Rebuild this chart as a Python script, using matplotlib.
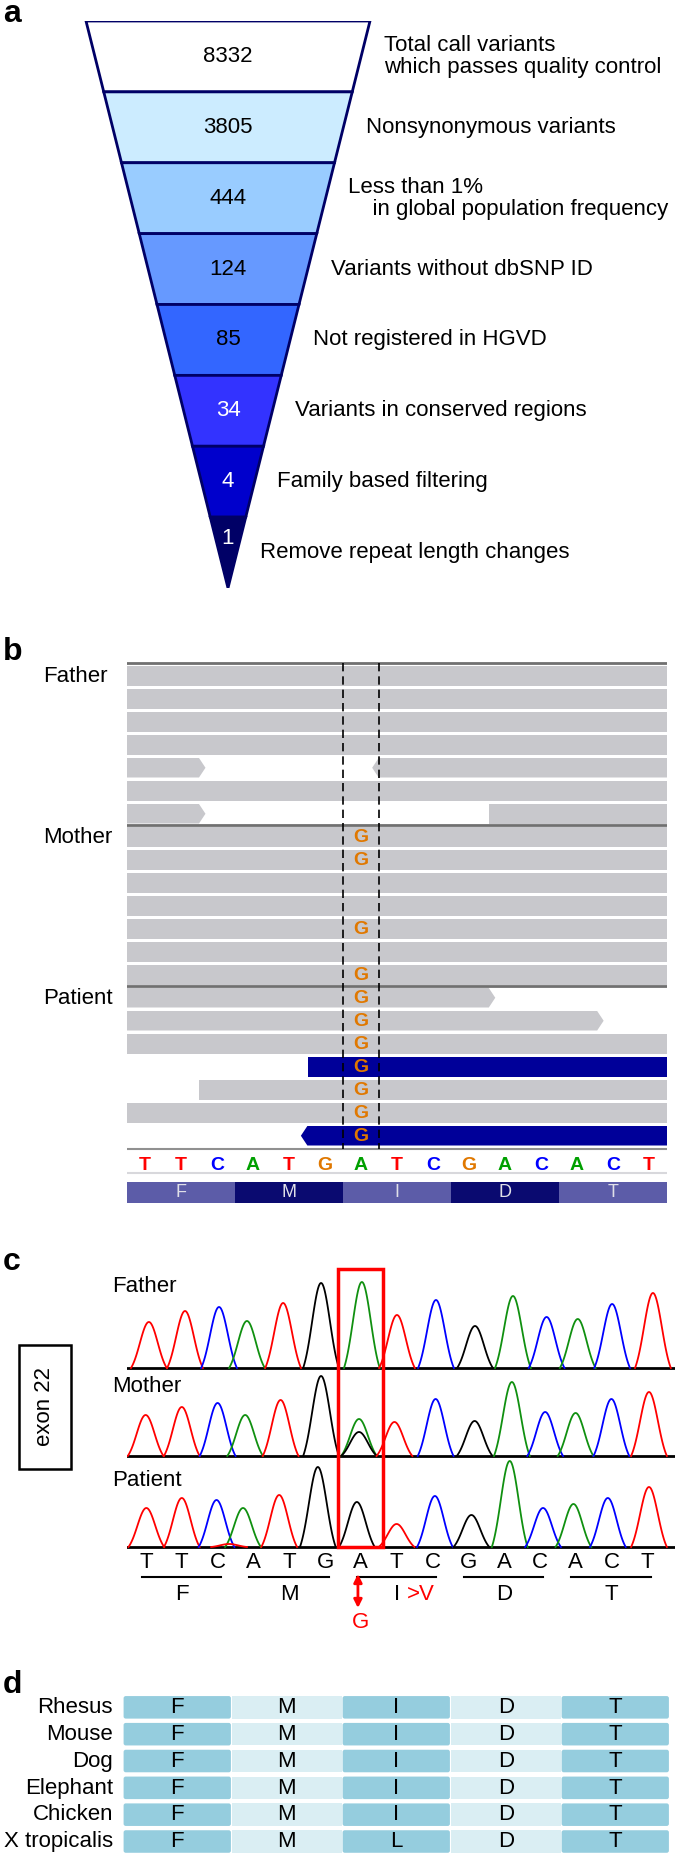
import numpy as np
import matplotlib
matplotlib.use("Agg")
import matplotlib.pyplot as plt
from matplotlib.patches import Polygon, Rectangle, FancyBboxPatch
from matplotlib import font_manager

plt.rcParams['font.family'] = ['Liberation Sans', 'DejaVu Sans']
installed = {f.name for f in font_manager.fontManager.ttflist}
narrow = 'Liberation Sans Narrow' if 'Liberation Sans Narrow' in installed else 'Liberation Sans'

# ---- data ----
# a: filtering funnel
stage_counts = [8332, 3805, 444, 124, 85, 34, 4, 1]
stage_labels = ["Total call variants\nwhich passes quality control",
                "Nonsynonymous variants",
                "Less than 1%\n    in global population frequency",
                "Variants without dbSNP ID",
                "Not registered in HGVD",
                "Variants in conserved regions",
                "Family based filtering",
                "Remove repeat length changes"]
stage_colors = ['#FFFFFF', '#CCECFF', '#99CCFF', '#6699FF', '#3366FF', '#3333FF', '#0000CC', '#000066']
stage_text = ['black'] * 5 + ['white'] * 3

# b: read pileup (row, start, end in bases, arrow side, colour)
ref_seq = "TTCATGATCGACACT"
codons = ["F", "M", "I", "D", "T"]
groups = ["Father", "Mother", "Patient"]
group_first_row = [0, 7, 14]
read_row = [0, 1, 2, 3, 4, 4, 5, 6, 6,
            7, 8, 9, 10, 11, 12, 13,
            14, 15, 16, 17, 18, 19, 20]
read_start = [0, 0, 0, 0, 0, 6.81, 0, 0, 10.05,
              0, 0, 0, 0, 0, 0, 0,
              0, 0, 0, 5.03, 2.0, 0, 4.83]
read_end = [15, 15, 15, 15, 2.18, 15, 15, 2.18, 15,
            15, 15, 15, 15, 15, 15, 15,
            10.23, 13.24, 15, 15, 15, 15, 15]
read_arrow = ['', '', '', '', 'R', 'L', '', 'R', '',
              '', '', '', '', '', '', '',
              'R', 'R', '', '', '', '', 'L']
read_color = ['g'] * 19 + ['b', 'g', 'g', 'b']
g_rows = [7, 8, 11, 13, 14, 15, 16, 17, 18, 19, 20]

# c: Sanger traces (peak position in bases, peak height, called base)
father_pos = [0.08, 1.09, 2.04, 2.82, 3.83, 4.89, 6.03, 7.01, 8.10, 9.19, 10.25, 11.19, 12.06, 13.02, 14.16]
father_h = [46, 57, 61, 47, 65, 85, 86, 53, 68, 42, 72, 51, 49, 64, 75]
father_base = "TTCATGATCGACACT"
mother_pos = [-0.01, 1.00, 2.00, 2.77, 3.76, 4.89, 5.95, 5.95, 6.94, 8.09, 9.18, 10.22, 11.15, 12.00, 13.00, 14.05]
mother_h = [41, 49, 53, 41, 56, 80, 37, 24, 34, 57, 35, 74, 44, 43, 57, 64]
mother_base = "TTCATGAGTCGACACT"
patient_pos = [0.01, 1.00, 1.97, 2.71, 3.72, 4.80, 5.89, 7.00, 8.07, 9.09, 10.16, 11.09, 11.94, 12.90, 14.05, 2.32]
patient_h = [39, 49, 47, 39, 52, 80, 45, 23, 51, 32, 86, 39, 43, 49, 60, 3]
patient_base = "TTCATGGTCGACACTT"
trace_labels = ["Father", "Mother", "Patient"]

# d: conservation
species = ["Rhesus", "Mouse", "Dog", "Elephant", "Chicken", "X tropicalis"]
residues = ["FMIDT", "FMIDT", "FMIDT", "FMIDT", "FMIDT", "FMLDT"]

# ---- layout helpers ----
W, H = 675, 1857
fig = plt.figure(figsize=(W / 100, H / 100), dpi=100)


def box(x0, y0, x1, y1):
    return [x0 / W, 1 - y1 / H, (x1 - x0) / W, (y1 - y0) / H]


def fx(px):
    return px / W


def fy(py):
    return 1 - py / H


for lab, yb in zip("abcd", [22, 660, 1270, 1693]):
    fig.text(fx(3), fy(yb), lab, fontsize=23, fontweight='bold', va='baseline')

# ---- a ----
ax = fig.add_axes(box(0, 21, 675, 588))
ax.set_xlim(-228 / 142, (675 - 228) / 142)
ax.set_ylim(len(stage_counts), 0)
ax.axis('off')
n = len(stage_counts)
for i, (cnt, lab) in enumerate(zip(stage_counts, stage_labels)):
    w0 = 1 - i / n
    w1 = 1 - (i + 1) / n
    ax.add_patch(Polygon([(-w0, i), (w0, i), (w1, i + 1), (-w1, i + 1)], closed=True,
                         facecolor=stage_colors[i], edgecolor='#000066', lw=2, joinstyle='miter'))
    ty = i + 0.5 if i < n - 1 else i + 0.3
    ax.text(0, ty, str(cnt), ha='center', va='center', fontsize=16, color=stage_text[i])
    ax.text(1 - (i + 0.5) / n + 0.16, i + 0.5, lab, ha='left', va='center', fontsize=16,
            linespacing=1.05)

# ---- b ----
cmap_b = {'T': '#FF0000', 'C': '#0000FF', 'A': '#00A000', 'G': '#E07800'}
ax = fig.add_axes(box(127, 655, 667, 1210))
ax.set_xlim(0, 15)
ax.set_ylim((1210 - 666) / 23, (655 - 666) / 23)
ax.axis('off')
rh = 0.848
tip = 0.18
for r, s, e, a, c in zip(read_row, read_start, read_end, read_arrow, read_color):
    fc = '#C8C8CC' if c == 'g' else '#000099'
    if a == 'R':
        pts = [(s, r), (e - tip, r), (e, r + rh / 2), (e - tip, r + rh), (s, r + rh)]
    elif a == 'L':
        pts = [(s + tip, r), (e, r), (e, r + rh), (s + tip, r + rh), (s, r + rh / 2)]
    else:
        pts = [(s, r), (e, r), (e, r + rh), (s, r + rh)]
    ax.add_patch(Polygon(pts, closed=True, facecolor=fc, edgecolor='none'))
ax.plot([0, 15], [-0.14, -0.14], color='#707070', lw=2)
for g0 in group_first_row[1:]:
    ax.plot([0, 15], [g0 - 0.07, g0 - 0.07], color='#707070', lw=2)
ax.plot([0, 15], [21.0, 21.0], color='#909090', lw=1.5)
ax.plot([0, 15], [22.04, 22.04], color='#D8D8DC', lw=1.5)
for xv in [6, 7]:
    ax.plot([xv, xv], [-0.14, 21.0], color='black', lw=1.2, ls=(0, (5, 3)))
for r in g_rows:
    ax.text(6.5, r + rh / 2 + 0.05, 'G', ha='center', va='center', fontsize=14,
            fontweight='bold', color=cmap_b['G'], family=[narrow, 'DejaVu Sans'])
for i, b in enumerate(ref_seq):
    ax.text(i + 0.5, 21.7, b, ha='center', va='center', fontsize=14, fontweight='bold',
            color=cmap_b[b], family=[narrow, 'DejaVu Sans'])
for k, aa in enumerate(codons):
    fc = '#5C5CA8' if k % 2 == 0 else '#0A0A70'
    ax.add_patch(Rectangle((3 * k, 22.43), 3, 0.92, facecolor=fc, edgecolor='none'))
    ax.text(3 * k + 1.5, 22.9, aa, ha='center', va='center', fontsize=13, color='#E0E0E8')
for gname, g0 in zip(groups, group_first_row):
    ax.text(-2.33, g0 + 0.45, gname, ha='left', va='center', fontsize=16, clip_on=False)

# ---- c ----
cmap_c = {'T': '#FF0000', 'C': '#0000FF', 'A': '#109010', 'G': '#000000'}
ax = fig.add_axes(box(127, 1255, 675, 1630))
ax.set_xlim((127 - 146) / 35.8, (675 - 146) / 35.8)
ax.set_ylim(0, 375)
ax.axis('off')
baselines = [262, 174, 83]
label_offsets = [81, 70, 67]
traces = [(father_pos, father_h, father_base),
          (mother_pos, mother_h, mother_base),
          (patient_pos, patient_h, patient_base)]
sig = 0.25
floor = np.exp(-2)
for (pos, hts, calls), y0, lab, off in zip(traces, baselines, trace_labels, label_offsets):
    ax.plot(ax.get_xlim(), [y0, y0], color='black', lw=2, zorder=1)
    for p, h, b in zip(pos, hts, calls):
        xs = np.linspace(p - 2 * sig, p + 2 * sig, 80)
        ys = y0 + h * (np.exp(-0.5 * ((xs - p) / sig) ** 2) - floor) / (1 - floor)
        ax.plot(xs, ys, color=cmap_c[b], lw=1.3, zorder=2)
    ax.text(-0.95, y0 + off, lab, ha='left', va='center', fontsize=16, clip_on=False)
ax.add_patch(Rectangle((6 - 0.63, baselines[2]), 1.26, 361 - baselines[2], facecolor='none',
                       edgecolor='#FF0000', lw=2.5, zorder=3))
for i, b in enumerate(ref_seq):
    ax.text(i, 68, b, ha='center', va='center', fontsize=16)
for k, aa in enumerate(codons):
    ax.plot([3 * k - 0.12, 3 * k + 2.1], [53, 53], color='black', lw=1.5)
    ax.text(3 * k + 1, 35, aa, ha='center', va='center', fontsize=16)
ax.text(7.29, 35, '>V', ha='left', va='center', fontsize=16, color='#FF0000')
ax.annotate('', xy=(5.92, 22), xytext=(5.92, 56),
            arrowprops=dict(arrowstyle='<|-|>', color='#FF0000', lw=2, mutation_scale=12,
                            shrinkA=0, shrinkB=0))
ax.text(5.98, 8, 'G', ha='center', va='center', fontsize=16, color='#FF0000')

fig.patches.append(Rectangle((fx(19), fy(1469)), fx(71) - fx(19), fy(1345) - fy(1469),
                             transform=fig.transFigure, facecolor='none', edgecolor='black', lw=1.8))
fig.text(fx(45), fy(1407), 'exon 22', rotation=90, ha='center', va='center', fontsize=16)

# ---- d ----
ax = fig.add_axes(box(122.5, 1695, 670, 1856))
ax.set_xlim(0, 5)
ax.set_ylim(len(species), 0)
ax.axis('off')
for r, (sp, res) in enumerate(zip(species, residues)):
    for c, aa in enumerate(res):
        if c % 2 == 0:
            ax.add_patch(FancyBboxPatch((c + 0.01, r + 0.04), 0.98, 0.84,
                                        boxstyle='round,pad=0,rounding_size=0.02',
                                        mutation_aspect=4, facecolor='#95CDDE', edgecolor='none'))
        else:
            ax.add_patch(Rectangle((c, r + 0.04), 1, 0.84, facecolor='#DAEEF3', edgecolor='none'))
        ax.text(c + 0.5, r + 0.47, aa, ha='center', va='center', fontsize=16)
    ax.text(-0.087, r + 0.47, sp, ha='right', va='center', fontsize=16, clip_on=False)

fig.savefig('out.png', dpi=100)
